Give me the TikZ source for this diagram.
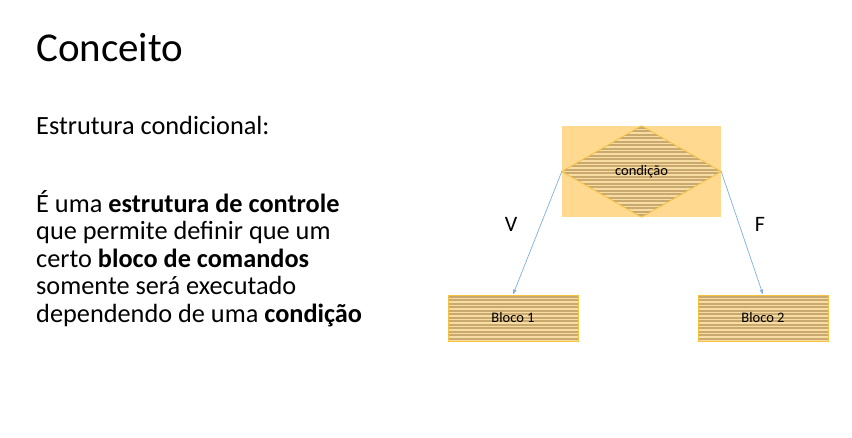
\documentclass[tikz,border=0pt]{standalone}
\usepackage{fontspec}
\setmainfont{Carlito}
\usetikzlibrary{arrows.meta}

\definecolor{fundolaranja}{HTML}{FFD98F}
\definecolor{bordalaranja}{HTML}{F5C242}
\definecolor{listraclara}{HTML}{F7DCA3}
\definecolor{listraescura}{HTML}{C9A96E}
\definecolor{setaazul}{HTML}{7FAEE0}

\tikzset{
  listras/.style={fill=listraclara,
    path picture={
      \foreach \k in {0,...,26}
        \fill [listraescura]
          ([yshift=-\k*3.5pt-1pt]path picture bounding box.north west)
          rectangle ([yshift=-\k*3.5pt-3pt]path picture bounding box.north east);
    }},
  bloco/.style={draw=bordalaranja, line width=0.8pt, minimum width=130pt,
    minimum height=46pt, inner sep=0pt, listras,
    font=\fontsize{14.5}{16}\selectfont},
  seta/.style={draw=setaazul, line width=0.7pt, -{Latex[length=5pt,width=4pt]}},
  rotulo/.style={font=\fontsize{22}{24}\selectfont, inner sep=0pt}
}

\begin{document}
\begin{tikzpicture}[x=1pt, y=-1pt]
    \useasboundingbox (0,0) rectangle (852,438);
    % textos
    \node [anchor=base west, inner sep=0pt, font=\fontsize{41}{46}\selectfont]
          (titulo) at (36,62) {Conceito};
    \node [anchor=base west, inner sep=0pt, font=\fontsize{26.3}{28}\selectfont]
          (subtitulo) at (36,135) {Estrutura condicional:};
    \node [anchor=north west, inner sep=0pt, align=left,
           font=\fontsize{26.3}{27.5}\selectfont] (texto) at (36,190)
          {É uma \textbf{estrutura de controle}\\
           que permite definir que um\\
           certo \textbf{bloco de comandos}\\
           somente será executado\\
           dependendo de uma \textbf{condição}};
    % condicao
    \node [fill=fundolaranja, minimum width=159pt, minimum height=91pt,
           inner sep=0pt] (fundo) at (641.5,171.5) {};
    \draw [bordalaranja, line width=0.8pt, listras]
          (fundo.north) -- (fundo.east) -- (fundo.south) -- (fundo.west) -- cycle;
    \node [font=\fontsize{14.5}{16}\selectfont] (condicao) at (fundo) {condição};
    % blocos
    \node [bloco] (bloco1) at (513,318) {Bloco 1};
    \node [bloco] (bloco2) at (763,318) {Bloco 2};
    \draw [seta] (fundo.west) -- (bloco1.north);
    \draw [seta] (fundo.east) -- (bloco2.north);
    \node [rotulo] (verdadeiro) at (511,224) {V};
    \node [rotulo] (falso) at (760,224) {F};
  \end{tikzpicture}
\end{document}
